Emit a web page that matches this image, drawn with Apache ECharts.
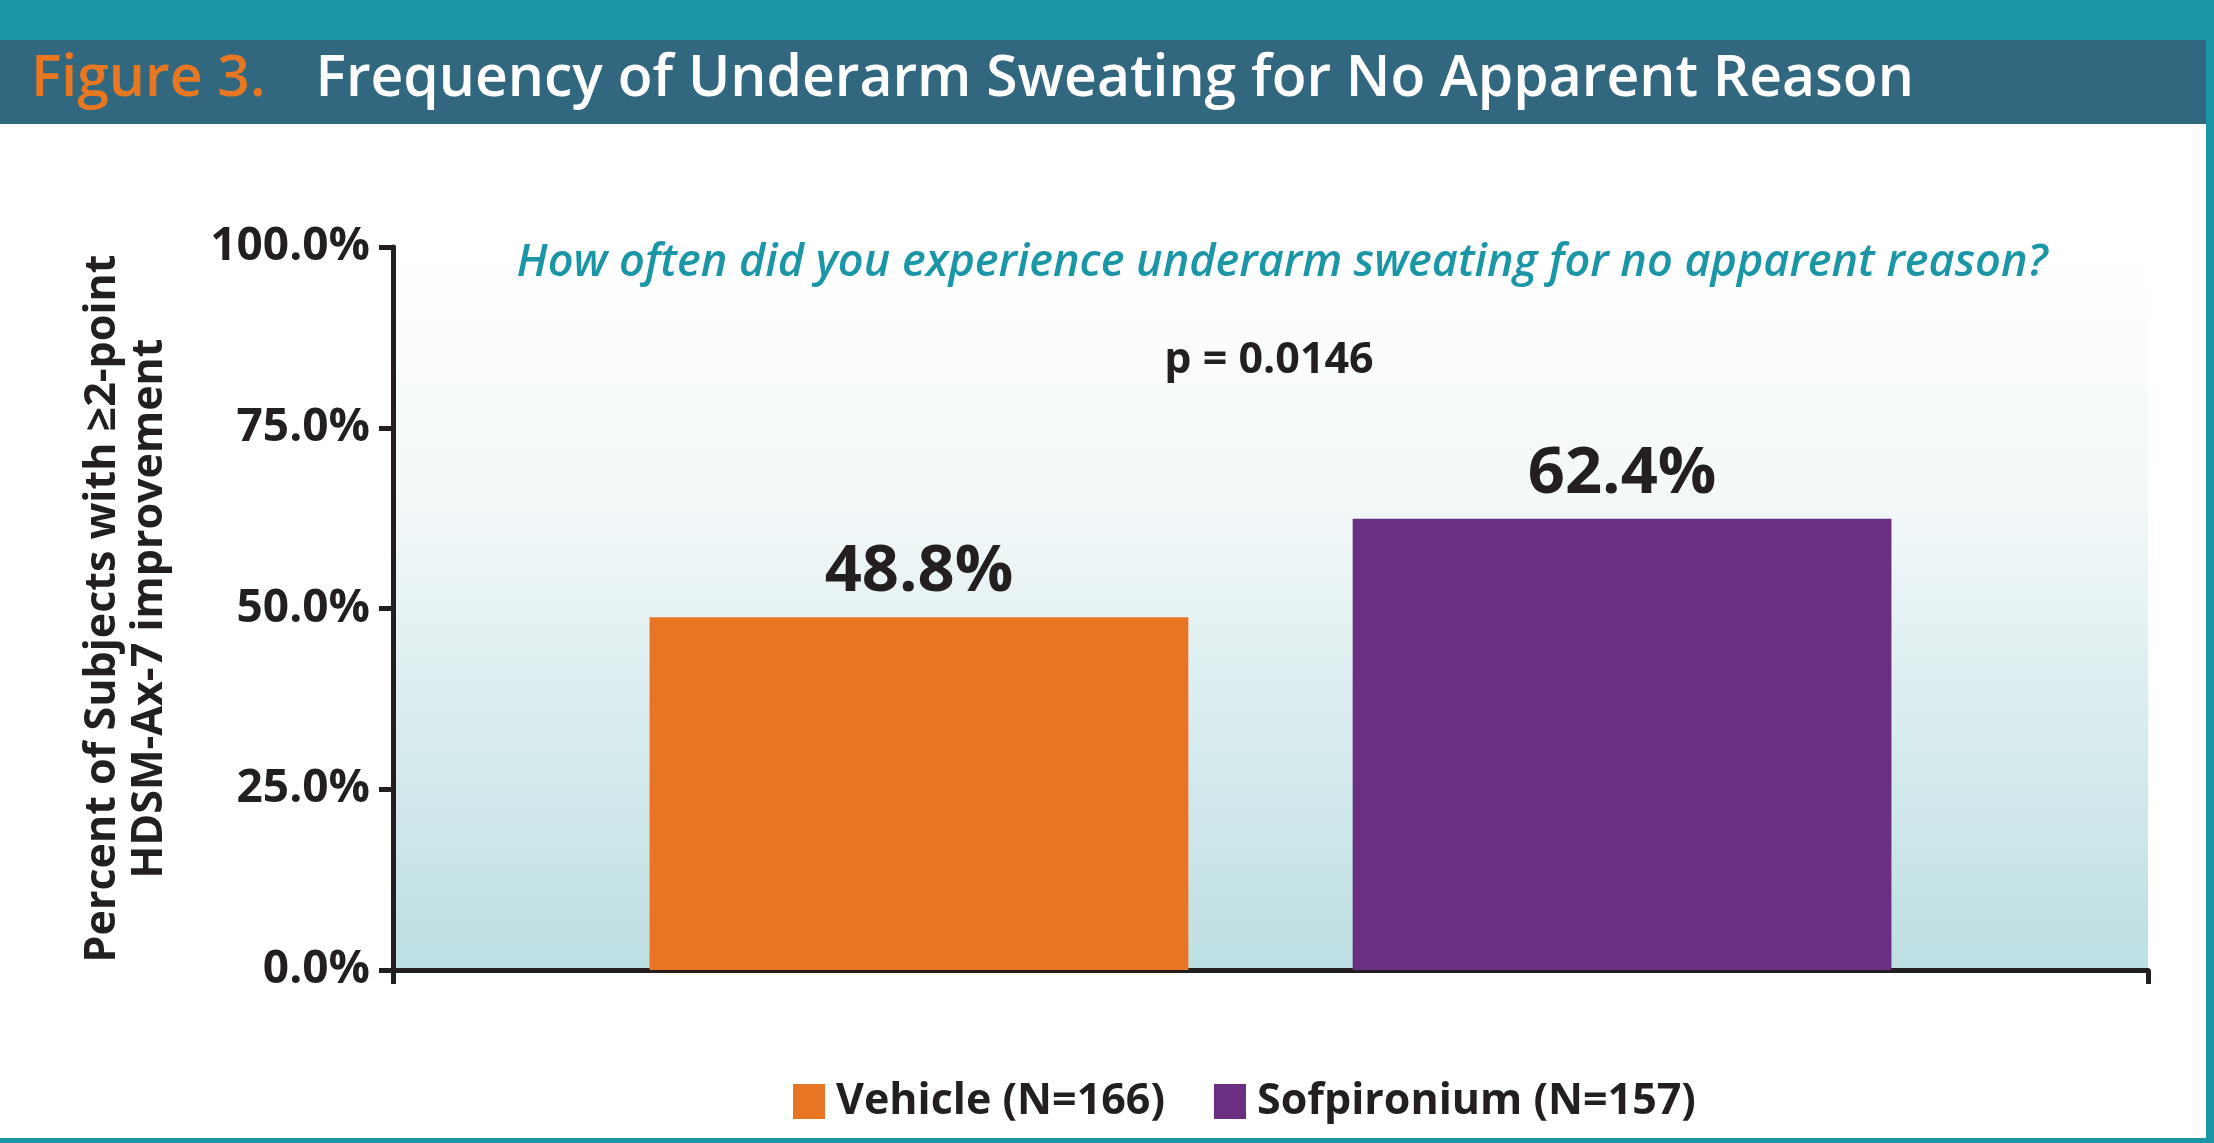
<!DOCTYPE html>
<html>
<head>
<meta charset="utf-8">
<title>Figure 3</title>
<script src="https://cdn.jsdelivr.net/npm/echarts@6/dist/echarts.min.js"></script>
<style>
  html, body { margin: 0; padding: 0; background: #fff; }
  #chart { width: 2214px; height: 1143px; }
</style>
</head>
<body>
<div id="chart"></div>
<script>
// data
const categories = ['']
const seriesNames = ['Vehicle (N=166)', 'Sofpironium (N=157)']
const vehicleValues = [48.8]
const sofpironiumValues = [62.4]
const yTicks = [0, 25, 50, 75, 100]

const figureLabel = 'Figure 3.'
const figureTitle = 'Frequency of Underarm Sweating for No Apparent Reason'
const question = 'How often did you experience underarm sweating for no apparent reason?'
const pValue = 'p = 0.0146'
const yName = 'Percent of Subjects with \u22652-point\nHDSM-Ax-7 improvement'

const TEAL = '#1b96a7'
const NAVY = '#31677f'
const INK = '#231f20'
const SANS = '"Open Sans", "Noto Sans", sans-serif'

const chart = echarts.init(document.getElementById('chart'))

const option = {
  animation: false,
  backgroundColor: '#fff',
  title: [
    {
      text: `{a|${figureLabel}}{gap|}{b|${figureTitle}}`,
      left: 26,
      top: 46,
      textStyle: {
        rich: {
          a: { color: '#e87722', fontSize: 57, fontWeight: 600, fontFamily: SANS },
          gap: { width: 50 },
          b: { color: '#fff', fontSize: 57, fontWeight: 600, fontFamily: SANS }
        }
      }
    },
    {
      text: question,
      left: 1277,
      textAlign: 'center',
      top: 236,
      textStyle: { color: TEAL, fontSize: 45, fontStyle: 'italic', fontWeight: 600, fontFamily: SANS }
    },
    {
      text: pValue,
      left: 1264,
      textAlign: 'center',
      top: 334,
      textStyle: { color: INK, fontSize: 43, fontWeight: 'bold', fontFamily: SANS }
    }
  ],
  graphic: [
    { type: 'rect', left: 0, top: 0, shape: { width: 2214, height: 40 }, style: { fill: TEAL }, z: -1 },
    { type: 'rect', left: 0, top: 40, shape: { width: 2206, height: 84 }, style: { fill: NAVY }, z: -1 },
    { type: 'rect', left: 2206, top: 0, shape: { width: 8, height: 1143 }, style: { fill: TEAL }, z: -1 },
    { type: 'rect', left: 0, top: 1138, shape: { width: 2214, height: 5 }, style: { fill: TEAL }, z: -1 }
  ],
  legend: {
    left: 788,
    top: 1075,
    itemWidth: 32,
    itemHeight: 35,
    itemGap: 49,
    icon: 'rect',
    textStyle: { color: INK, fontSize: 43, fontWeight: 'bold', fontFamily: SANS, padding: [0, 0, 0, 6] }
  },
  grid: {
    left: 393,
    right: 66,
    top: 247,
    bottom: 173,
    show: true,
    borderWidth: 0,
    backgroundColor: {
      type: 'linear', x: 0, y: 0, x2: 0, y2: 1,
      colorStops: [
        { offset: 0, color: '#ffffff' },
        { offset: 0.35, color: '#f3f8f9' },
        { offset: 1, color: '#bddfe3' }
      ]
    }
  },
  xAxis: {
    type: 'category',
    data: categories,
    axisLine: { lineStyle: { color: INK, width: 5 } },
    axisTick: { show: true, length: 14, lineStyle: { color: INK, width: 5 } },
    axisLabel: { show: false }
  },
  yAxis: {
    type: 'value',
    min: yTicks[0],
    max: yTicks[yTicks.length - 1],
    interval: yTicks[1] - yTicks[0],
    name: yName,
    nameLocation: 'middle',
    nameGap: 220,
    nameRotate: 90,
    nameTextStyle: { color: INK, fontSize: 43, fontWeight: 'bold', fontFamily: SANS, lineHeight: 47 },
    axisLine: { show: true, lineStyle: { color: INK, width: 5 } },
    axisTick: { show: true, length: 14, lineStyle: { color: INK, width: 5 } },
    splitLine: { show: false },
    axisLabel: {
      margin: 23,
      color: INK,
      fontSize: 46,
      fontWeight: 'bold',
      fontFamily: SANS,
      formatter: v => v.toFixed(1) + '%'
    }
  },
  series: [
    {
      name: seriesNames[0],
      type: 'bar',
      data: vehicleValues,
      barWidth: '30.7%',
      barGap: '30.5%',
      itemStyle: { color: '#e97424' },
      label: {
        show: true, position: 'top', distance: 12,
        color: INK, fontSize: 65, fontWeight: 'bold', fontFamily: SANS,
        formatter: p => p.value.toFixed(1) + '%'
      }
    },
    {
      name: seriesNames[1],
      type: 'bar',
      data: sofpironiumValues,
      barWidth: '30.7%',
      itemStyle: { color: '#6b2f82' },
      label: {
        show: true, position: 'top', distance: 12,
        color: INK, fontSize: 65, fontWeight: 'bold', fontFamily: SANS,
        formatter: p => p.value.toFixed(1) + '%'
      }
    }
  ]
}

chart.setOption(option)
</script>
</body>
</html>
